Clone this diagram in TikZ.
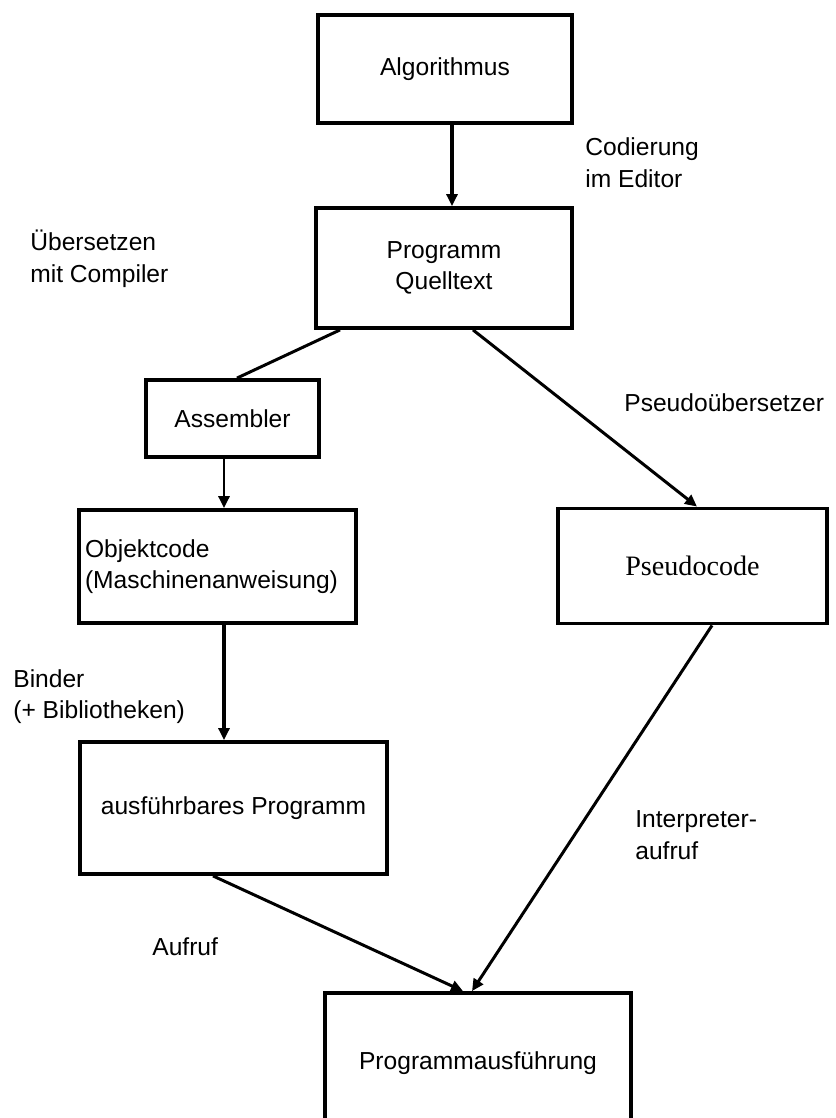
\documentclass[tikz,border=0pt]{standalone}
\usepackage{fontspec}
\setmainfont{Liberation Sans}
\newfontfamily\pseudofont{Liberation Serif}
\usetikzlibrary{arrows.meta}

\begin{document}
\begin{tikzpicture}[x=0.02cm, y=-0.02cm,
    >={Triangle[length=0.24cm, width=0.22cm]},
    box/.style 2 args={draw, line width=2.2pt, minimum width=#1, minimum height=#2,
      inner sep=0pt, align=center, font=\fontsize{14}{18}\selectfont},
    lbl/.style={anchor=west, align=left, inner sep=0pt, font=\fontsize{14}{18}\selectfont},
    conn/.style={line width=1.7pt},
    thickconn/.style={line width=2.2pt}]
  \clip (0,0) rectangle (835,1118);

  \node[box={5.08cm}{2.16cm}] (alg) at (445,69) {Algorithmus};
  \node[box={5.12cm}{2.40cm}] (prog) at (444,268) {Programm\\Quelltext};
  \node[box={3.46cm}{1.54cm}] (asm) at (232.5,418.5) {Assembler};
  \node[box={5.54cm}{2.26cm}, align=left, text width=5.3cm, inner xsep=0.12cm] (obj) at (217.5,566.5)
    {Objektcode\\(Maschinenanweisung)};
  \node[box={5.38cm}{2.30cm}, font=\pseudofont\fontsize{16}{19}\selectfont] (pseudo) at (692.5,566) {Pseudocode};
  \node[box={6.14cm}{2.64cm}] (exe) at (233.5,808) {ausführbares Programm};
  \node[box={6.12cm}{2.80cm}] (run) at (478,1063) {Programmausführung};

  \node[lbl] (codlbl) at (585,162.5) {Codierung\\im Editor};
  \node[lbl] (complbl) at (30,258.5) {Übersetzen\\mit Compiler};
  \node[lbl] (pseudolbl) at (624,403) {Pseudoübersetzer};
  \node[lbl] (bindlbl) at (13,696.5) {Binder\\(+ Bibliotheken)};
  \node[lbl] (interlbl) at (635,835) {Interpreter-\\aufruf};
  \node[lbl] (calllbl) at (152,947) {Aufruf};

  \draw[thickconn, ->] ([xshift=0.14cm]alg.south) -- ([xshift=0.14cm]alg.south |- prog.north);
  \draw[conn] ([xshift=-2.08cm]prog.south) -- ([xshift=0.09cm]asm.north);
  \draw[conn, ->] ([xshift=-0.17cm]asm.south) -- ([xshift=-0.17cm]asm.south |- obj.north);
  \draw[thickconn, ->] ([xshift=0.13cm]obj.south) -- ([xshift=0.13cm]obj.south |- exe.north);
  \draw[conn, ->] ([xshift=0.58cm]prog.south) -- ([xshift=0.09cm]pseudo.north);
  \draw[conn, ->] ([xshift=-0.41cm]exe.south) -- ([xshift=-0.30cm]run.north);
  \draw[conn, ->] ([xshift=0.39cm]pseudo.south) -- ([xshift=-0.12cm]run.north);
\end{tikzpicture}
\end{document}
